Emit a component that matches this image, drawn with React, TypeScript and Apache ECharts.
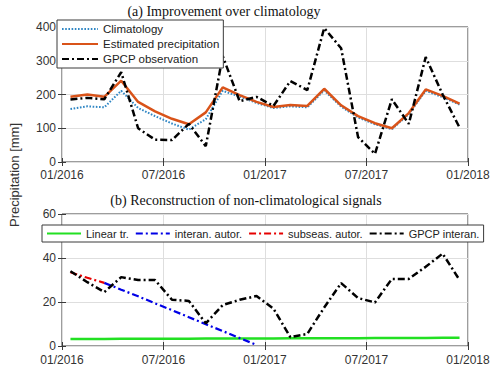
import React, { useEffect, useRef } from "react";
import * as echarts from "echarts";

// Months Jan 2016 .. Dec 2017 (each plotted at mid-month)
const months = [
  "2016-01","2016-02","2016-03","2016-04","2016-05","2016-06","2016-07","2016-08","2016-09","2016-10","2016-11","2016-12",
  "2017-01","2017-02","2017-03","2017-04","2017-05","2017-06","2017-07","2017-08","2017-09","2017-10","2017-11","2017-12",
];
const xTickLabels = ["01/2016", "07/2016", "01/2017", "07/2017", "01/2018"];
const yTicksTop = [0, 100, 200, 300, 400];
const yTicksBottom = [0, 20, 40, 60];

// (a) Improvement over climatology
const climatology = [157,165,162,211,160,136,114,96,127,211,194,175,160,165,162,212,164,132,112,97,142,211,192,170];
const estimated = [193,200,193,241,178,150,128,112,147,221,198,178,163,169,166,217,168,136,115,100,145,215,196,173];
const gpcpObs = [185,190,186,266,100,66,65,113,47,314,180,193,166,240,213,397,337,74,24,186,113,311,200,102];

// (b) Reconstruction of non-climatological signals
const linearTr = [3.2,3.2,3.2,3.3,3.3,3.3,3.3,3.3,3.4,3.4,3.4,3.4,3.4,3.5,3.5,3.5,3.5,3.5,3.6,3.6,3.6,3.6,3.7,3.7];
const interanAutor = [null,null,28.7,25.6,22.6,19.4,16.3,13.1,9.9,6.8,3.6,0.5,null,null,null,null,null,null,null,null,null,null,null,null];
const subseasAutor = [33.5,31,28.7,null,null,null,null,null,null,null,null,null,null,null,null,null,null,null,null,null,null,null,null,null];
const gpcpInteran = [34,29,24.5,31.3,30,30,21,20.5,10.3,18.6,21,22.7,17,4,5.5,17.5,28.6,21.8,19.8,30.5,30.5,36,42,30];

const toPairs = (vals: (number | null)[]) =>
  months.map((_, i) => [i + 0.5, vals[i]]).filter((p) => p[1] !== null);

const FRAME = "#3a3a3a";
const GRIDC = "#dedede";
const SANS = "Liberation Sans, Arial, sans-serif";
const SERIF = "Liberation Serif, Times New Roman, serif";
const DASHDOT = [7, 3, 2, 3];

export default function App() {
  const ref = useRef<HTMLDivElement>(null);
  useEffect(() => {
    if (!ref.current) return;
    const chart = echarts.init(ref.current, null, { renderer: "svg" });
    const xBase = (gridIndex: number, margin: number) => ({
      type: "value" as const,
      gridIndex,
      min: 0,
      max: 24,
      interval: 6,
      axisLine: { show: false },
      axisTick: { show: true, inside: true, length: 4, lineStyle: { color: FRAME } },
      splitLine: { show: true, lineStyle: { color: GRIDC, width: 1 } },
      axisLabel: {
        margin,
        color: "#333",
        fontFamily: SANS,
        fontSize: 12,
        formatter: (v: number) => xTickLabels[Math.round(v / 6)] ?? "",
      },
    });
    const xMirror = (gridIndex: number) => ({
      type: "value" as const,
      gridIndex,
      position: "top" as const,
      min: 0,
      max: 24,
      interval: 6,
      axisLine: { show: false },
      axisTick: { show: true, inside: true, length: 4, lineStyle: { color: FRAME } },
      splitLine: { show: false },
      axisLabel: { show: false },
    });
    const yBase = (gridIndex: number, ticks: number[]) => ({
      type: "value" as const,
      gridIndex,
      min: ticks[0],
      max: ticks[ticks.length - 1],
      interval: ticks[1] - ticks[0],
      axisLine: { show: false },
      axisTick: { show: true, inside: true, length: 4, lineStyle: { color: FRAME } },
      splitLine: { show: true, lineStyle: { color: GRIDC, width: 1 } },
      axisLabel: { margin: 6, color: "#333", fontFamily: SANS, fontSize: 12 },
    });
    const yMirror = (gridIndex: number, ticks: number[]) => ({
      type: "value" as const,
      gridIndex,
      position: "right" as const,
      min: ticks[0],
      max: ticks[ticks.length - 1],
      interval: ticks[1] - ticks[0],
      axisLine: { show: false },
      axisTick: { show: true, inside: true, length: 4, lineStyle: { color: FRAME } },
      splitLine: { show: false },
      axisLabel: { show: false },
    });
    const line = (name: string, data: (number | null)[], xi: number, yi: number, color: string, width: number, type: any) => ({
      name,
      type: "line" as const,
      xAxisIndex: xi,
      yAxisIndex: yi,
      data: toPairs(data),
      symbol: "none",
      showSymbol: false,
      connectNulls: false,
      lineStyle: { color, width, type },
      itemStyle: { color },
      z: 3,
    });
    const legendCommon = {
      padding: [3, 4, 3, 4],
      itemHeight: 10,
      backgroundColor: "#ffffff",
      borderColor: FRAME,
      borderWidth: 1,
      borderRadius: 0,
      itemStyle: { opacity: 0, borderWidth: 0 },
    };

    chart.setOption({
      animation: false,
      backgroundColor: "#ffffff",
      grid: [
        { left: 62, right: 32, top: 27, height: 135, show: true, borderColor: FRAME, borderWidth: 1, backgroundColor: "transparent" },
        { left: 62, right: 32, top: 214, height: 132, show: true, borderColor: FRAME, borderWidth: 1, backgroundColor: "transparent" },
      ],
      xAxis: [xBase(0, 7), xBase(1, 8), xMirror(0), xMirror(1)],
      yAxis: [yBase(0, yTicksTop), yBase(1, yTicksBottom), yMirror(0, yTicksTop), yMirror(1, yTicksBottom)],
      legend: [
        {
          ...legendCommon,
          orient: "vertical",
          left: 57,
          top: 20,
          itemGap: 3,
          itemWidth: 36,
          textStyle: { fontFamily: SANS, fontSize: 11.5, color: "#222" },
          data: ["Climatology", "Estimated precipitation", "GPCP observation"],
        },
        {
          ...legendCommon,
          orient: "horizontal",
          left: 42,
          top: 225,
          itemGap: 6,
          itemWidth: 34,
          textStyle: { fontFamily: SANS, fontSize: 11, color: "#222" },
          data: ["Linear tr.", "interan. autor.", "subseas. autor.", "GPCP interan."],
        },
      ],
      graphic: [
        {
          type: "text",
          x: 224,
          y: 11,
          style: { text: "(a) Improvement over climatology", font: `14px ${SERIF}`, fill: "#111", textAlign: "center", textVerticalAlign: "middle" },
        },
        {
          type: "text",
          x: 246,
          y: 200,
          style: { text: "(b) Reconstruction of non-climatological signals", font: `14px ${SERIF}`, fill: "#111", textAlign: "center", textVerticalAlign: "middle" },
        },
        {
          type: "text",
          x: 14,
          y: 175,
          rotation: Math.PI / 2,
          style: { text: "Precipitation [mm]", font: `13px ${SANS}`, fill: "#333", textAlign: "center", textVerticalAlign: "middle" },
        },
      ],
      series: [
        line("Climatology", climatology, 0, 0, "#2f86c4", 2, [1.6, 1.6]),
        line("Estimated precipitation", estimated, 0, 0, "#d95319", 2.5, "solid"),
        line("GPCP observation", gpcpObs, 0, 0, "#000000", 2.5, DASHDOT),
        line("Linear tr.", linearTr, 1, 1, "#22e022", 2.5, "solid"),
        line("interan. autor.", interanAutor, 1, 1, "#0000e6", 2.2, DASHDOT),
        line("subseas. autor.", subseasAutor, 1, 1, "#e60000", 2.2, DASHDOT),
        line("GPCP interan.", gpcpInteran, 1, 1, "#000000", 2.5, DASHDOT),
      ],
    });
    return () => chart.dispose();
  }, []);
  return <div ref={ref} style={{ position: "fixed", left: 0, top: 0, width: 500, height: 376 }} />;
}
